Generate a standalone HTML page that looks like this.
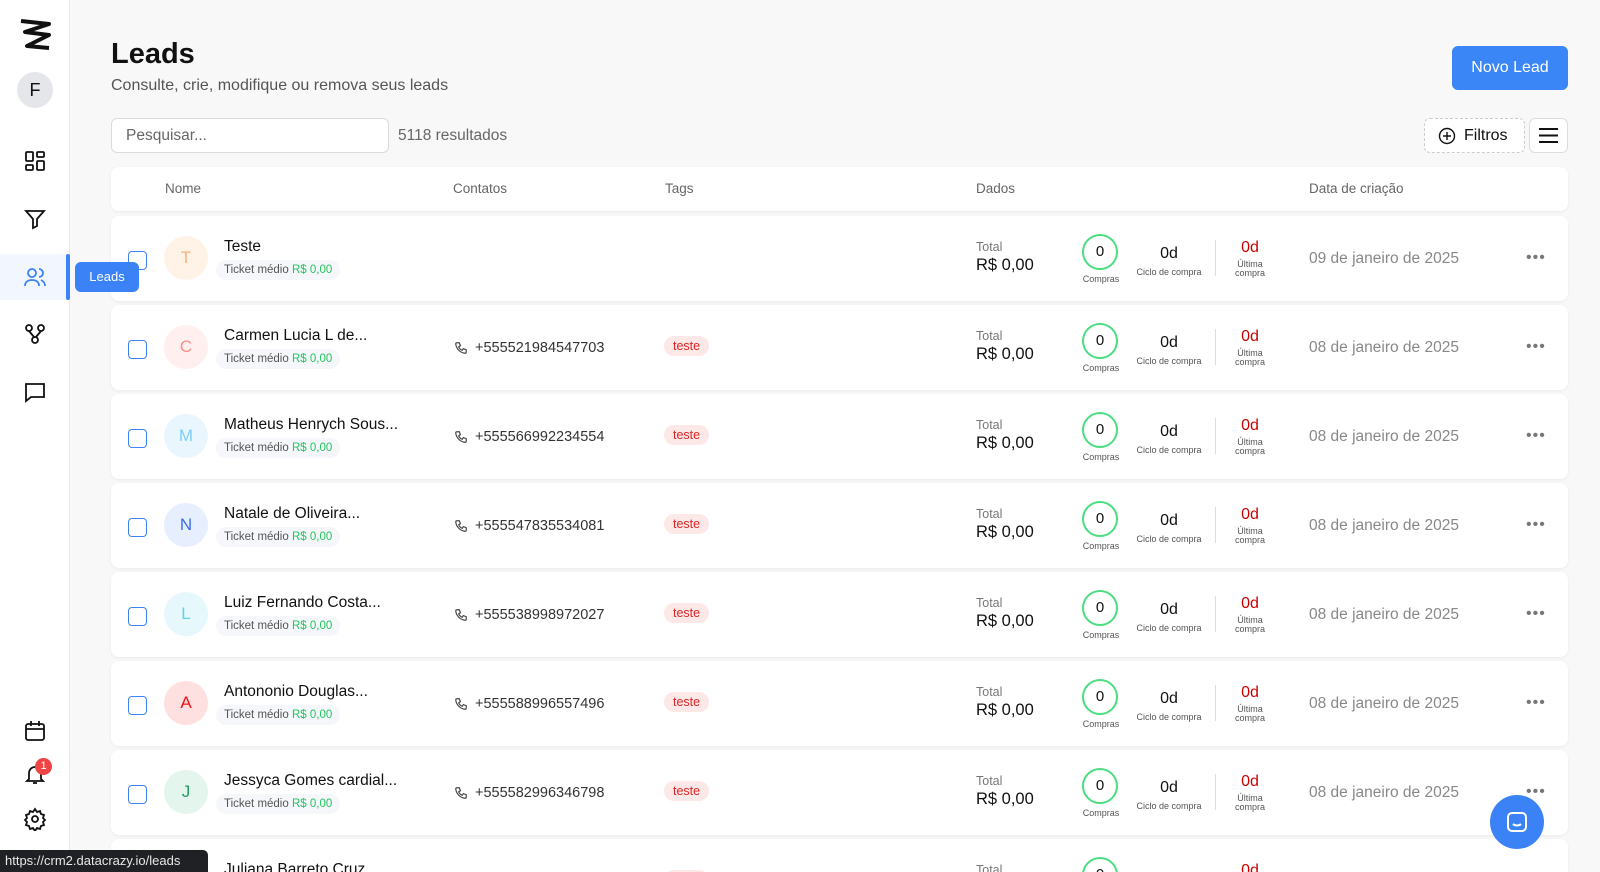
<!DOCTYPE html>
<html style="overflow:hidden;height:872px"><head><meta charset="utf-8"><style>
*{box-sizing:border-box;margin:0;padding:0}
body{width:1600px;height:872px;overflow:hidden;background:#f8f8f9;font-family:"Liberation Sans",sans-serif;position:relative;color:#111}
.a{position:absolute}
.side{left:0;top:0;width:70px;height:872px;background:#fff;border-right:1px solid #e8eaee}
.ic{position:absolute;left:23px;width:24px;height:24px}
.card{position:absolute;left:111px;width:1457px;background:#fff;border-radius:8px;box-shadow:0 1px 3px rgba(0,0,0,.06);overflow:hidden}
.cb{position:absolute;left:17px;top:35px;width:19px;height:19px;border:1.5px solid #3b82f6;border-radius:4px;background:#fff}
.av{position:absolute;left:53px;top:20px;width:44px;height:44px;border-radius:50%;text-align:center;line-height:44px;font-size:17px}
.nm{position:absolute;left:113px;top:22px;font-size:15.5px;color:#111}
.tk{position:absolute;left:105px;top:44px;height:20px;padding:0 8px;border-radius:10px;background:#f5f7fa;font-size:11.5px;color:#555;line-height:20px}
.tk b{font-weight:normal;color:#22c55e}
.ph{position:absolute;left:364px;top:35px;font-size:14.5px;color:#333}
.tag{position:absolute;left:553px;top:31px;height:20px;padding:0 9px;border-radius:10px;background:#fde8e8;color:#dc2626;font-size:12.5px;line-height:20px}
.tot{position:absolute;left:865px;top:24px;font-size:12.5px;color:#777}
.tv{position:absolute;left:865px;top:40px;font-size:16.5px;color:#111}
.ci{position:absolute;left:971px;top:18px;width:36px;height:36px;border:2px solid #4ade80;border-radius:50%;text-align:center;line-height:32px;font-size:15px}
.cl{position:absolute;left:960px;top:58px;width:60px;text-align:center;font-size:9px;color:#555}
.od{position:absolute;left:1028px;top:29px;width:60px;text-align:center;font-size:16px}
.cc{position:absolute;left:1018px;top:51px;width:80px;text-align:center;font-size:9px;color:#555}
.dv{position:absolute;left:1104px;top:24px;width:1px;height:36px;background:#ddd}
.rd{position:absolute;left:1115px;top:23px;width:48px;text-align:center;font-size:16px;color:#c00}
.ul{position:absolute;left:1115px;top:44px;width:48px;text-align:center;font-size:9px;color:#555;line-height:9px}
.dt{position:absolute;left:1198px;top:34px;font-size:15.5px;color:#888}
.dots{position:absolute;left:1415px;top:33px;font-size:16px;color:#777;letter-spacing:1px}
</style></head><body>
<div class="a side">
<svg class="a" style="left:19px;top:18px" width="32" height="32" viewBox="0 0 32 32"><path d="M2 3 L30 6 L6 14 L30 17 L8 28 L30 30" fill="none" stroke="#111" stroke-width="4" stroke-linejoin="round"/></svg>
<div class="a" style="left:17px;top:72px;width:36px;height:36px;border-radius:50%;background:#e5e6ea;text-align:center;line-height:36px;font-size:18px">F</div>
<svg class="ic" style="top:149px" viewBox="0 0 24 24" fill="none" stroke="#111" stroke-width="1.8"><rect x="3" y="3" width="7" height="9" rx="1"/><rect x="14" y="3" width="7" height="5" rx="1"/><rect x="14" y="12" width="7" height="9" rx="1"/><rect x="3" y="16" width="7" height="5" rx="1"/></svg>
<svg class="ic" style="top:207px" viewBox="0 0 24 24" fill="none" stroke="#111" stroke-width="1.8"><path d="M3 4h18l-7 8v7l-4 2v-9z"/></svg>
<div class="a" style="left:0;top:254px;width:70px;height:46px;background:#f1f6ff"></div>
<div class="a" style="left:66px;top:254px;width:4px;height:46px;background:#3b82f6;border-radius:2px"></div>
<svg class="ic" style="top:265px" viewBox="0 0 24 24" fill="none" stroke="#3b82f6" stroke-width="1.8"><circle cx="9" cy="8" r="4"/><path d="M2 21c0-4 3-6 7-6s7 2 7 6"/><path d="M16 4a4 4 0 010 8M18 15c2 1 4 3 4 6"/></svg>
<svg class="ic" style="top:322px" viewBox="0 0 24 24" fill="none" stroke="#111" stroke-width="1.8"><circle cx="6" cy="6" r="3"/><circle cx="18" cy="6" r="3"/><circle cx="12" cy="18" r="3"/><path d="M6 9l5 6M18 9l-5 6"/></svg>
<svg class="ic" style="top:380px" viewBox="0 0 24 24" fill="none" stroke="#111" stroke-width="1.8"><path d="M3 4h18v13H8l-5 4z"/></svg>
<svg class="ic" style="top:719px" viewBox="0 0 24 24" fill="none" stroke="#111" stroke-width="1.8"><rect x="3" y="5" width="18" height="16" rx="2"/><path d="M3 10h18M8 2v5M16 2v5"/></svg>
<svg class="ic" style="top:762px" viewBox="0 0 24 24" fill="none" stroke="#111" stroke-width="1.8"><path d="M6 17V11a6 6 0 0112 0v6l2 2H4z M10 21h4"/></svg>
<div class="a" style="left:35px;top:758px;width:17px;height:17px;border-radius:50%;background:#ef4444;color:#fff;font-size:11px;text-align:center;line-height:17px">1</div>
<svg class="ic" style="top:807px" viewBox="0 0 24 24" fill="none" stroke="#111" stroke-width="1.8"><circle cx="12" cy="12" r="3"/><path d="M12 2l2 3 3-1 1 3 3 1-1 3 2 2-2 2 1 3-3 1-1 3-3-1-2 3-2-3-3 1-1-3-3-1 1-3-2-2 2-2-1-3 3-1 1-3 3 1z"/></svg>
</div>
<div class="a" style="left:111px;top:38px;font-size:29px;font-weight:bold">Leads</div>
<div class="a" style="left:111px;top:77px;font-size:16px;color:#555">Consulte, crie, modifique ou remova seus leads</div>
<div class="a" style="left:1452px;top:46px;width:116px;height:44px;border-radius:6px;background:#3a86f6;color:#fff;font-size:16px;text-align:center;line-height:44px">Novo Lead</div>
<div class="a" style="left:111px;top:118px;width:278px;height:35px;border:1px solid #d9dbe0;border-radius:6px;background:#fff;padding-left:14px;line-height:33px;font-size:15.5px;color:#666">Pesquisar...</div>
<div class="a" style="left:398px;top:127px;font-size:15.5px;color:#666">5118 resultados</div>
<div class="a" style="left:1424px;top:118px;width:101px;height:35px;border:1px dashed #ccc;border-radius:6px;background:#fff;font-size:16px;line-height:33px;padding-left:39px">Filtros</div>
<svg class="a" style="left:1438px;top:127px" width="18" height="18" viewBox="0 0 18 18" fill="none" stroke="#111" stroke-width="1.4"><circle cx="9" cy="9" r="7.5"/><path d="M9 5v8M5 9h8"/></svg>
<div class="a" style="left:1529px;top:118px;width:39px;height:35px;border:1px solid #ddd;border-radius:6px;background:#fff"></div>
<svg class="a" style="left:1538px;top:127px" width="21" height="17" viewBox="0 0 21 17" stroke="#111" stroke-width="2"><path d="M1 2h19M1 8.5h19M1 15h19"/></svg>
<div class="card" style="top:167px;height:44px;font-size:13.5px;color:#666">
<span class="a" style="left:54px;top:14px">Nome</span><span class="a" style="left:342px;top:14px">Contatos</span><span class="a" style="left:554px;top:14px">Tags</span><span class="a" style="left:865px;top:14px">Dados</span><span class="a" style="left:1198px;top:14px">Data de criação</span></div>
<div class="card" style="top:216px;height:85px"><div class="cb"></div><div class="av" style="background:#fff3e8;color:#f7b27a">T</div><div class="nm">Teste</div><div class="tk">Ticket médio <b>R$ 0,00</b></div><div class="tot">Total</div><div class="tv">R$ 0,00</div><div class="ci">0</div><div class="cl">Compras</div><div class="od">0d</div><div class="cc">Ciclo de compra</div><div class="dv"></div><div class="rd">0d</div><div class="ul">Última<br>compra</div><div class="dt">09 de janeiro de 2025</div><div class="dots">•••</div></div>
<div class="card" style="top:305px;height:85px"><div class="cb"></div><div class="av" style="background:#fff0ef;color:#f8938a">C</div><div class="nm">Carmen Lucia L de...</div><div class="tk">Ticket médio <b>R$ 0,00</b></div><svg class="a" style="left:343px;top:36px" width="14" height="14" viewBox="0 0 24 24" fill="none" stroke="#444" stroke-width="2"><path d="M5 3h4l2 5-3 2a11 11 0 006 6l2-3 5 2v4a2 2 0 01-2 2A18 18 0 013 5a2 2 0 012-2z"/></svg><div class="ph">+555521984547703</div><div class="tag">teste</div><div class="tot">Total</div><div class="tv">R$ 0,00</div><div class="ci">0</div><div class="cl">Compras</div><div class="od">0d</div><div class="cc">Ciclo de compra</div><div class="dv"></div><div class="rd">0d</div><div class="ul">Última<br>compra</div><div class="dt">08 de janeiro de 2025</div><div class="dots">•••</div></div>
<div class="card" style="top:394px;height:85px"><div class="cb"></div><div class="av" style="background:#eaf6fd;color:#7dcff6">M</div><div class="nm">Matheus Henrych Sous...</div><div class="tk">Ticket médio <b>R$ 0,00</b></div><svg class="a" style="left:343px;top:36px" width="14" height="14" viewBox="0 0 24 24" fill="none" stroke="#444" stroke-width="2"><path d="M5 3h4l2 5-3 2a11 11 0 006 6l2-3 5 2v4a2 2 0 01-2 2A18 18 0 013 5a2 2 0 012-2z"/></svg><div class="ph">+555566992234554</div><div class="tag">teste</div><div class="tot">Total</div><div class="tv">R$ 0,00</div><div class="ci">0</div><div class="cl">Compras</div><div class="od">0d</div><div class="cc">Ciclo de compra</div><div class="dv"></div><div class="rd">0d</div><div class="ul">Última<br>compra</div><div class="dt">08 de janeiro de 2025</div><div class="dots">•••</div></div>
<div class="card" style="top:483px;height:85px"><div class="cb"></div><div class="av" style="background:#e7eefe;color:#3b6ef0">N</div><div class="nm">Natale de Oliveira...</div><div class="tk">Ticket médio <b>R$ 0,00</b></div><svg class="a" style="left:343px;top:36px" width="14" height="14" viewBox="0 0 24 24" fill="none" stroke="#444" stroke-width="2"><path d="M5 3h4l2 5-3 2a11 11 0 006 6l2-3 5 2v4a2 2 0 01-2 2A18 18 0 013 5a2 2 0 012-2z"/></svg><div class="ph">+555547835534081</div><div class="tag">teste</div><div class="tot">Total</div><div class="tv">R$ 0,00</div><div class="ci">0</div><div class="cl">Compras</div><div class="od">0d</div><div class="cc">Ciclo de compra</div><div class="dv"></div><div class="rd">0d</div><div class="ul">Última<br>compra</div><div class="dt">08 de janeiro de 2025</div><div class="dots">•••</div></div>
<div class="card" style="top:572px;height:85px"><div class="cb"></div><div class="av" style="background:#e6f8fc;color:#5fd3e6">L</div><div class="nm">Luiz Fernando Costa...</div><div class="tk">Ticket médio <b>R$ 0,00</b></div><svg class="a" style="left:343px;top:36px" width="14" height="14" viewBox="0 0 24 24" fill="none" stroke="#444" stroke-width="2"><path d="M5 3h4l2 5-3 2a11 11 0 006 6l2-3 5 2v4a2 2 0 01-2 2A18 18 0 013 5a2 2 0 012-2z"/></svg><div class="ph">+555538998972027</div><div class="tag">teste</div><div class="tot">Total</div><div class="tv">R$ 0,00</div><div class="ci">0</div><div class="cl">Compras</div><div class="od">0d</div><div class="cc">Ciclo de compra</div><div class="dv"></div><div class="rd">0d</div><div class="ul">Última<br>compra</div><div class="dt">08 de janeiro de 2025</div><div class="dots">•••</div></div>
<div class="card" style="top:661px;height:85px"><div class="cb"></div><div class="av" style="background:#ffe0e0;color:#e11">A</div><div class="nm">Antononio Douglas...</div><div class="tk">Ticket médio <b>R$ 0,00</b></div><svg class="a" style="left:343px;top:36px" width="14" height="14" viewBox="0 0 24 24" fill="none" stroke="#444" stroke-width="2"><path d="M5 3h4l2 5-3 2a11 11 0 006 6l2-3 5 2v4a2 2 0 01-2 2A18 18 0 013 5a2 2 0 012-2z"/></svg><div class="ph">+555588996557496</div><div class="tag">teste</div><div class="tot">Total</div><div class="tv">R$ 0,00</div><div class="ci">0</div><div class="cl">Compras</div><div class="od">0d</div><div class="cc">Ciclo de compra</div><div class="dv"></div><div class="rd">0d</div><div class="ul">Última<br>compra</div><div class="dt">08 de janeiro de 2025</div><div class="dots">•••</div></div>
<div class="card" style="top:750px;height:85px"><div class="cb"></div><div class="av" style="background:#e3f5ec;color:#22a060">J</div><div class="nm">Jessyca Gomes cardial...</div><div class="tk">Ticket médio <b>R$ 0,00</b></div><svg class="a" style="left:343px;top:36px" width="14" height="14" viewBox="0 0 24 24" fill="none" stroke="#444" stroke-width="2"><path d="M5 3h4l2 5-3 2a11 11 0 006 6l2-3 5 2v4a2 2 0 01-2 2A18 18 0 013 5a2 2 0 012-2z"/></svg><div class="ph">+555582996346798</div><div class="tag">teste</div><div class="tot">Total</div><div class="tv">R$ 0,00</div><div class="ci">0</div><div class="cl">Compras</div><div class="od">0d</div><div class="cc">Ciclo de compra</div><div class="dv"></div><div class="rd">0d</div><div class="ul">Última<br>compra</div><div class="dt">08 de janeiro de 2025</div><div class="dots">•••</div></div>
<div class="card" style="top:839px;height:33px;border-bottom-left-radius:0;border-bottom-right-radius:0"><div class="av" style="background:#eef0f3;color:#555">J</div><div class="nm">Juliana Barreto Cruz</div><div class="tag">teste</div><div class="tot">Total</div><div class="ci">0</div><div class="rd">0d</div></div>
<div class="a" style="left:75px;top:262px;width:64px;height:30px;border-radius:6px;background:#3b82f6;color:#fff;font-size:13px;text-align:center;line-height:30px">Leads</div>
<div class="a" style="left:1490px;top:795px;width:54px;height:54px;border-radius:50%;background:#3b82f6"></div>
<svg class="a" style="left:1505px;top:810px" width="24" height="24" viewBox="0 0 24 24" fill="none" stroke="#fff" stroke-width="2"><rect x="3" y="3" width="18" height="18" rx="4"/><path d="M8 14c2 2 6 2 8 0"/></svg>
<div class="a" style="left:0;top:850px;width:208px;height:22px;background:#202124;border-top-right-radius:5px;color:#e8e8e8;font-size:13px;line-height:22px;padding-left:5px">https://crm2.datacrazy.io/leads</div>
</body></html>
